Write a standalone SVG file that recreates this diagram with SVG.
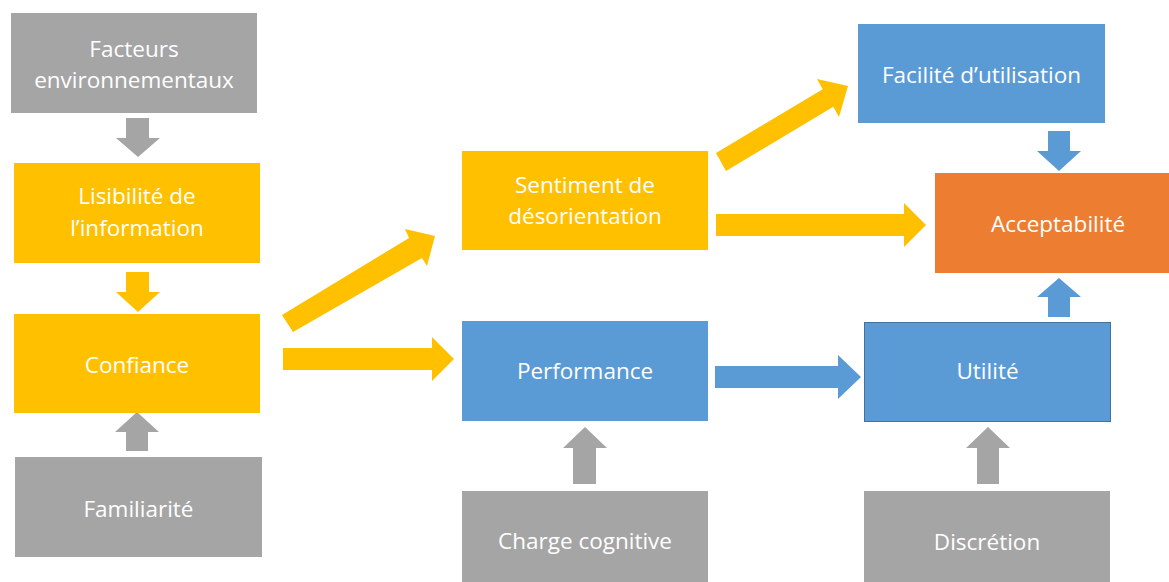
<svg xmlns="http://www.w3.org/2000/svg" width="1169" height="582" viewBox="0 0 1169 582">
<style>
.gray{fill:#A5A5A5}
.yellow{fill:#FFC000}
.blue{fill:#5B9BD5}
.orange{fill:#ED7D31}
.lbl{font-family:"Open Sans","Liberation Sans",sans-serif;font-size:22.5px;fill:#FFFFFF;text-anchor:middle}
</style>
<rect width="1169" height="582" fill="#FFFFFF"/>
<g id="connectors">
<polygon class="gray" points="126,118 149,118 149,138 160,138 138,157 116,138 126,138"/>
<polygon class="yellow" points="126,272 149,272 149,292 160,292 138,312 116,292 126,292"/>
<polygon class="gray" points="137,412 159,432 148,432 148,451 126,451 126,432 115,432"/>
<polygon class="yellow" points="282,315 409,238 405,229 435,236 427,266 422,258 293,332"/>
<polygon class="yellow" points="283,348 432,348 432,337 454,359 432,381 432,370 283,370"/>
<polygon class="yellow" points="716,153 822.7,89.2 817,79 848,86 839,117 833.3,106.8 726,171"/>
<polygon class="yellow" points="716,214 904,214 904,203 926,225 904,247 904,236 716,236"/>
<polygon class="blue" points="1048,131 1070,131 1070,151 1081,151 1059,171 1037,151 1048,151"/>
<polygon class="blue" points="1059,278 1081,297 1070,297 1070,317 1048,317 1048,297 1037,297"/>
<polygon class="blue" points="715,366 838,366 838,355 861,377 838,399 838,388 715,388"/>
<polygon class="gray" points="585,427 607,448 596,448 596,484 573,484 573,448 563,448"/>
<polygon class="gray" points="988,427 1010,448 999,448 999,484 977,484 977,448 966,448"/>
</g>
<g id="facteurs">
<rect class="gray" x="11" y="13" width="246" height="100"/>
<text class="lbl" x="134" y="57">Facteurs</text>
<text class="lbl" x="134" y="88">environnementaux</text>
</g>
<g id="lisibilite">
<rect class="yellow" x="14" y="163" width="246" height="100"/>
<text class="lbl" x="137" y="204">Lisibilité de</text>
<text class="lbl" x="137" y="236">l’information</text>
</g>
<g id="confiance">
<rect class="yellow" x="14" y="314" width="246" height="99"/>
<text class="lbl" x="137" y="373">Confiance</text>
</g>
<g id="familiarite">
<rect class="gray" x="15" y="457" width="247" height="100"/>
<text class="lbl" x="138.5" y="517">Familiarité</text>
</g>
<g id="sentiment">
<rect class="yellow" x="462" y="151" width="246" height="99"/>
<text class="lbl" x="585" y="193">Sentiment de</text>
<text class="lbl" x="585" y="224">désorientation</text>
</g>
<g id="performance">
<rect class="blue" x="462" y="321" width="246" height="100"/>
<text class="lbl" x="585" y="379">Performance</text>
</g>
<g id="charge">
<rect class="gray" x="462" y="491" width="246" height="100"/>
<text class="lbl" x="585" y="549">Charge cognitive</text>
</g>
<g id="facilite">
<rect class="blue" x="858" y="24" width="247" height="99"/>
<text class="lbl" x="981.5" y="83">Facilité d’utilisation</text>
</g>
<g id="acceptabilite">
<rect class="orange" x="935" y="173" width="246" height="100"/>
<text class="lbl" x="1058" y="232">Acceptabilité</text>
</g>
<g id="utilite">
<rect class="blue" x="864.5" y="322.5" width="246" height="99" stroke="#41719C" stroke-width="1"/>
<text class="lbl" x="987.5" y="379">Utilité</text>
</g>
<g id="discretion">
<rect class="gray" x="864" y="491" width="246" height="100"/>
<text class="lbl" x="987" y="550">Discrétion</text>
</g>
</svg>
